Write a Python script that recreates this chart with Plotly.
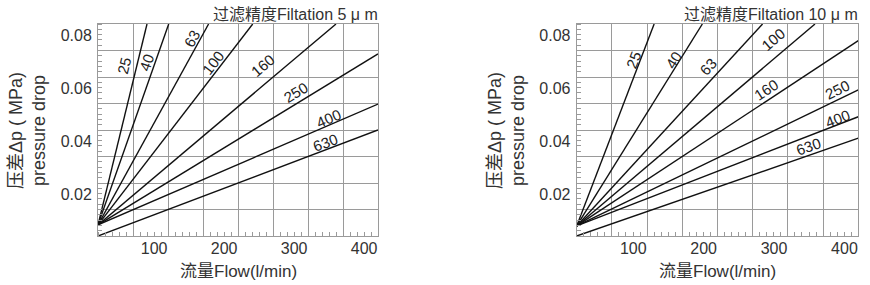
import math
import plotly.graph_objects as go

W, H = 870, 285
MT, MB = 24, 49

grades = ["25", "40", "63", "100", "160", "250", "400", "630"]

# 5 µm chart: start pressure at 0 flow, end point (flow, pressure)
p0_5 = [0.0042, 0.0042, 0.0042, 0.0042, 0.0042, 0.0042, 0.0042, 0.0]
end_q_5 = [70, 101, 158, 221, 340, 400, 400, 400]
end_p_5 = [0.08, 0.08, 0.08, 0.08, 0.08, 0.0687, 0.0498, 0.040]
lab_q_5 = [37, 70, 134, 165, 235, 282, 329, 325]
lab_p_5 = [0.0645, 0.0653, 0.0747, 0.0653, 0.0645, 0.0543, 0.0445, 0.0351]

# 10 µm chart
p0_10 = [0.0038, 0.0038, 0.0038, 0.0038, 0.0038, 0.0038, 0.0038, 0.0]
end_q_10 = [110, 178.5, 264, 338.5, 400, 400, 400, 400]
end_p_10 = [0.08, 0.08, 0.08, 0.08, 0.0737, 0.0551, 0.045, 0.0369]
lab_q_10 = [80, 137, 187, 279, 270, 371, 371, 329]
lab_p_10 = [0.0664, 0.0664, 0.0639, 0.074, 0.0551, 0.0551, 0.0444, 0.0337]

x_grid = [0, 50, 100, 150, 200, 250, 300, 350, 400]
x_text = ["", "", "100", "", "200", "", "300", "", "400"]
y_grid = [0, 0.01, 0.02, 0.03, 0.04, 0.05, 0.06, 0.07, 0.08]
y_text = ["", "", "0.02", "", "0.04", "", "0.06", "", "0.08"]

titles = ["过滤精度Filtation 5 μ m", "过滤精度Filtation 10 μ m"]
ytitle = "压差Δp ( MPa)<br>pressure drop"
xtitle = "流量Flow(l/min)"

# pixel layout
dom1 = (98, 378)
dom2 = (576.7, 858.3)

FONT = "Liberation Sans, Arial, Noto Sans CJK SC, sans-serif"
GRID = "#9a9a9a"
TXT = "#333333"

fig = go.Figure()
ann = []

charts = [
    (p0_5, end_q_5, end_p_5, lab_q_5, lab_p_5, "x", "y", dom1),
    (p0_10, end_q_10, end_p_10, lab_q_10, lab_p_10, "x2", "y2", dom2),
]
plot_h = H - MT - MB
for ci, (p0, eq, ep, lq, lp, xa, ya, dom) in enumerate(charts):
    wpx = dom[1] - dom[0]
    for g, s, q, p, tq, tp in zip(grades, p0, eq, ep, lq, lp):
        fig.add_trace(go.Scatter(x=[0, q], y=[s, p], mode="lines",
                                 line=dict(color="#111111", width=1.4),
                                 xaxis=xa, yaxis=ya, showlegend=False,
                                 hoverinfo="skip"))
        ang = -math.degrees(math.atan2((p - s) / 0.08 * plot_h, q / 400 * wpx))
        ann.append(dict(x=tq, y=tp, xref=xa, yref=ya, text=g, showarrow=False,
                        textangle=ang, font=dict(size=15, color="#222222", family=FONT)))
    # chart title
    ann.append(dict(x=(dom[1] + 2) / W, y=1 + 9 / plot_h, xref="paper", yref="paper",
                    text=titles[ci], showarrow=False, xanchor="right", yanchor="middle",
                    font=dict(size=16, color=TXT, family=FONT)))
    # x title
    ann.append(dict(x=(dom[0] + dom[1]) / 2 / W, y=-(271 - (H - MB)) / plot_h,
                    xref="paper", yref="paper", text=xtitle, showarrow=False,
                    xanchor="center", yanchor="middle",
                    font=dict(size=17, color=TXT, family=FONT)))
    # y title
    yx = 27 if ci == 0 else 506
    ann.append(dict(x=yx / W, y=(H - MB - 131) / plot_h, xref="paper", yref="paper",
                    text=ytitle, showarrow=False, textangle=-90,
                    xanchor="center", yanchor="middle",
                    font=dict(size=18, color=TXT, family=FONT)))

axis_common = dict(showline=True, mirror=True, linecolor=GRID, linewidth=1,
                   showgrid=True, gridcolor=GRID, gridwidth=1, zeroline=False,
                   ticks="", tickfont=dict(size=16, color=TXT, family=FONT))

for i, dom in enumerate([dom1, dom2]):
    sfx = "" if i == 0 else "2"
    fig.layout["xaxis" + sfx] = dict(
        axis_common, domain=[dom[0] / W, dom[1] / W], range=[0, 400],
        tickmode="array", tickvals=x_grid, ticktext=x_text,
        ticklabelposition="outside left", ticklabelstandoff=-2,
        minor=dict(dtick=10, ticks="inside", ticklen=4, tickcolor=GRID, showgrid=False),
        anchor="y" + sfx)
    fig.layout["yaxis" + sfx] = dict(
        axis_common, domain=[0, 1], range=[0, 0.08],
        tickmode="array", tickvals=y_grid, ticktext=y_text,
        ticklabelposition="outside bottom", ticklabelstandoff=2,
        minor=dict(dtick=0.002, ticks="inside", ticklen=4, tickcolor=GRID, showgrid=False),
        anchor="x" + sfx)

fig.update_layout(width=W, height=H, margin=dict(l=0, r=0, t=MT, b=MB),
                  paper_bgcolor="white", plot_bgcolor="white",
                  annotations=ann, font=dict(family=FONT))

fig.write_html("out.html")
